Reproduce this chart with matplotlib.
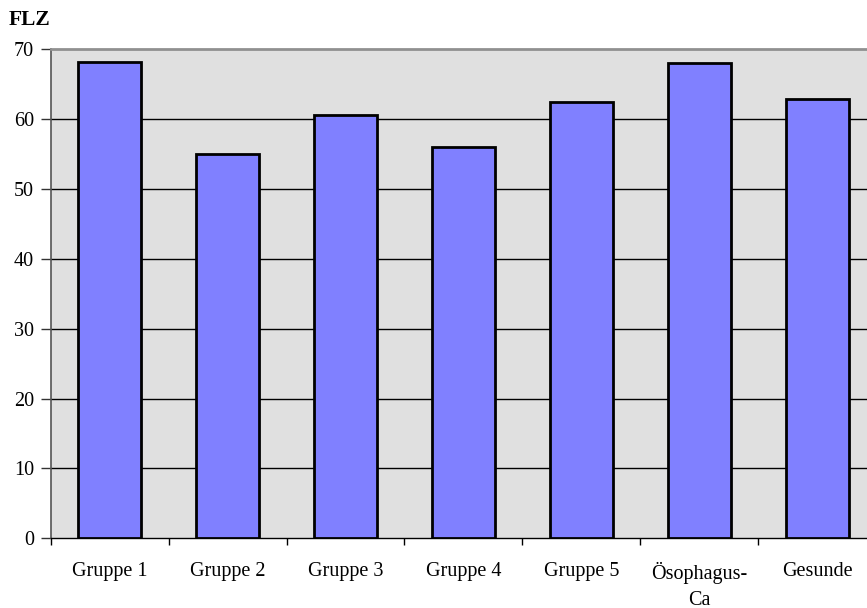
import matplotlib
matplotlib.use("Agg")
import matplotlib.pyplot as plt
import numpy as np

# Mittelwerte FLZ pro Gruppe
gruppen = ["Gruppe 1", "Gruppe 2", "Gruppe 3", "Gruppe 4", "Gruppe 5",
           "Ösophagus-\nCa", "Gesunde"]
flz = [68.2, 55.0, 60.6, 56.0, 62.4, 68.1, 62.9]
y_ticks = [0, 10, 20, 30, 40, 50, 60, 70]

plt.rcParams['font.family'] = ['Liberation Serif', 'DejaVu Serif']
fs = 14.5

fig = plt.figure(figsize=(8.67, 6.08), dpi=100)
# Diagrammfläche läuft rechts leicht über den Bildrand hinaus
ax = fig.add_axes([0.0585, 0.1146, 0.9519, 0.8043])
ax.set_facecolor('#E0E0E0')

x = np.arange(len(gruppen))
ax.bar(x, flz, width=0.535, color='#8080FF', edgecolor='black',
       linewidth=2, zorder=3)

ax.set_xlim(-0.5, len(gruppen) - 0.5)
ax.set_ylim(0, 70)

# Gitterlinien
for v in y_ticks[1:-1]:
    ax.axhline(v, color='black', linewidth=1, zorder=1)

ax.set_yticks(y_ticks)
ax.set_yticklabels([str(v) for v in y_ticks], fontsize=fs)
ax.tick_params(axis='y', direction='out', length=7, width=1, pad=5,
               color='#333333')

# Kategoriegrenzen als Ticks, Beschriftungen in der Mitte
ax.set_xticks(np.arange(len(gruppen) + 1) - 0.5)
ax.set_xticklabels([])
ax.tick_params(axis='x', direction='out', length=5, width=1, color='black')
ax.set_xticks(x, minor=True)
ax.set_xticklabels(gruppen, minor=True, fontsize=fs, linespacing=1.47)
ax.tick_params(axis='x', which='minor', length=0, pad=17)

ax.spines['top'].set_color('#909090')
ax.spines['top'].set_linewidth(2)
ax.spines['left'].set_color('#555555')
ax.spines['left'].set_linewidth(1.2)
ax.spines['bottom'].set_color('black')
ax.spines['bottom'].set_linewidth(1)
ax.spines['right'].set_visible(False)

fig.text(0.0104, 0.967, "FLZ", fontsize=15.5, fontweight='bold',
         va='center', ha='left')

fig.savefig("out.png", dpi=100)
